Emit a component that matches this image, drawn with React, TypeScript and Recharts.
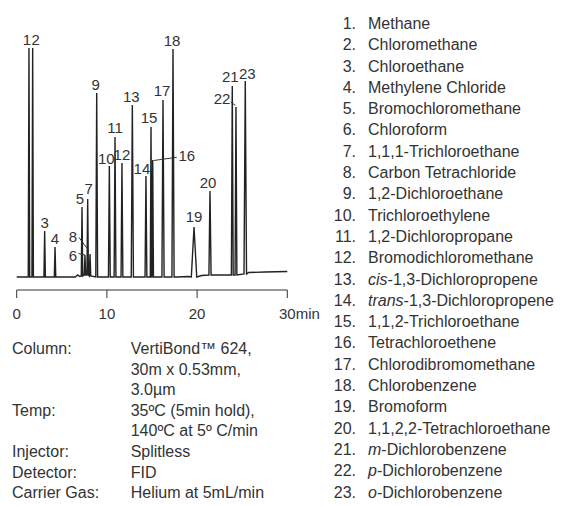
import { ComposedChart, Line, Scatter, XAxis, YAxis } from 'recharts';

// peak number, retention time (min), apex height, half width at base (min), base level
const PEAK_IDS = ['1', '2', '3', '4', '5', '6', '7', '8', '9', '10', '11', '12', '13', '14', '15', '16', '17', '18', '19', '20', '21', '22', '23'];
const PEAK_TIMES = [1.36, 1.77, 3.1, 4.25, 7.24, 7.57, 7.87, 8.13, 8.87, 10.27, 10.9, 11.67, 12.82, 14.33, 14.89, 15.08, 16.22, 17.33, 19.66, 21.43, 23.9, 24.31, 25.34];
const PEAK_HEIGHTS = [229, 229, 46, 30, 70, 22, 78, 23, 184, 111, 140, 114, 172, 101, 150, 117, 177, 228, 50, 86, 191, 170, 196];
const PEAK_HALF_WIDTHS = [0.08, 0.08, 0.08, 0.08, 0.08, 0.08, 0.08, 0.08, 0.1, 0.1, 0.1, 0.1, 0.12, 0.1, 0.08, 0.08, 0.12, 0.12, 0.3, 0.12, 0.1, 0.1, 0.14];
const PEAK_BASES = [0, 0, 0, 0, 1, 2, 2, 1, 0, 0, 0, 0, 0, 0, 0, 0, 0, 0, 0, 2, 2, 2, 3];

// baseline drift between peaks
const BASELINE_TIMES = [0, 6.5, 6.76, 7.0, 17.8, 19.0, 20.5, 23.5, 25.7, 27.5, 30];
const BASELINE_VALUES = [0, 0, 2, 0.5, 0, 0.5, 1.5, 2, 4.5, 5, 5.5];

const X_TICKS = [0, 10, 20, 30];

const COMPOUND_PREFIXES = ['', '', '', '', '', '', '', '', '', '', '', '', 'cis', 'trans', '', '', '', '', '', '', 'm', 'p', 'o'];
const COMPOUND_NAMES = [
  'Methane', 'Chloromethane', 'Chloroethane', 'Methylene Chloride', 'Bromochloromethane', 'Chloroform',
  '1,1,1-Trichloroethane', 'Carbon Tetrachloride', '1,2-Dichloroethane', 'Trichloroethylene', '1,2-Dichloropropane',
  'Bromodichloromethane', '-1,3-Dichloropropene', '-1,3-Dichloropropene', '1,1,2-Trichloroethane', 'Tetrachloroethene',
  'Chlorodibromomethane', 'Chlorobenzene', 'Bromoform', '1,1,2,2-Tetrachloroethane', '-Dichlorobenzene',
  '-Dichlorobenzene', '-Dichlorobenzene',
];

const CONDITION_LABELS = ['Column:', '', '', 'Temp:', '', 'Injector:', 'Detector:', 'Carrier Gas:'];
const CONDITION_VALUES = ['VertiBond\u2122 624,', '30m x 0.53mm,', '3.0\u00b5m', '35\u00baC (5min hold),', '140\u00baC at 5\u00ba C/min', 'Splitless', 'FID', 'Helium at 5mL/min'];

// label placement relative to the apex (px), plus optional leader line
const LABEL_LAYOUT: { dx: number; dy: number; leader?: number[] }[] = [
  { dx: -2, dy: -8 }, { dx: 3, dy: -8 }, { dx: 0, dy: -8 }, { dx: 0, dy: -8 }, { dx: -2, dy: -8 },
  { dx: -12, dy: 1, leader: [-6.5, -1.5, 0, 0] }, { dx: 1, dy: -10 },
  { dx: -17, dy: -17, leader: [-11, -16.5, -1, -3] }, { dx: -1, dy: -8 }, { dx: -3, dy: -7 },
  { dx: 0, dy: -9 }, { dx: 0, dy: -8 }, { dx: -1, dy: -8 }, { dx: -4, dy: -7 }, { dx: -2, dy: -9 },
  { dx: 34, dy: -4, leader: [1, 0.5, 24, -2.7] }, { dx: -1, dy: -9 }, { dx: -1, dy: -8 }, { dx: 0, dy: -10 },
  { dx: -2, dy: -8 }, { dx: -2, dy: -9 }, { dx: -14, dy: -8, leader: [-5.3, -5, -0.7, -1.7] }, { dx: 2, dy: -7 },
];

const FONT = '"Liberation Sans", Arial, sans-serif';
const INK = '#333';

const trace = [
  ...BASELINE_TIMES.map((t, i) => ({ t, signal: BASELINE_VALUES[i] })),
  ...PEAK_TIMES.flatMap((t, i) => [
    { t: t - PEAK_HALF_WIDTHS[i], signal: PEAK_BASES[i] },
    { t, signal: PEAK_HEIGHTS[i] },
    { t: t + PEAK_HALF_WIDTHS[i], signal: PEAK_BASES[i] },
  ]),
].sort((a, b) => a.t - b.t);

const peakPoints = PEAK_TIMES.map((t, i) => ({ t, signal: PEAK_HEIGHTS[i], id: PEAK_IDS[i], idx: i }));

function AxisTick({ x, y, payload }: any) {
  const v = payload.value;
  if (v === 30) {
    return <text x={x - 8.3} y={y} dy="0.71em" textAnchor="start" fontSize={15} fontFamily={FONT} fill={INK}>30min</text>;
  }
  return <text x={x} y={y} dy="0.71em" textAnchor="middle" fontSize={15} fontFamily={FONT} fill={INK}>{v}</text>;
}

function PeakLabel(props: any) {
  const { cx, cy, payload } = props;
  const lay = LABEL_LAYOUT[payload.idx];
  return (
    <g>
      {lay.leader && (
        <line x1={cx + lay.leader[0]} y1={cy + lay.leader[1]} x2={cx + lay.leader[2]} y2={cy + lay.leader[3]} stroke={INK} strokeWidth={1} />
      )}
      <text x={cx + lay.dx} y={cy + lay.dy} dy="0.35em" textAnchor="middle" fontSize={15} fontFamily={FONT} fill={INK}>{payload.id}</text>
    </g>
  );
}

export default function App() {
  return (
    <div style={{ position: 'absolute', left: 0, top: 0, width: 571, height: 506, background: '#fff', fontFamily: FONT, color: INK, overflow: 'hidden' }}>
      <div style={{ position: 'absolute', left: 0, top: 0 }}>
        <ComposedChart width={330} height={330} data={trace} margin={{ top: 0, right: 42.7, left: 16.7, bottom: 0 }}>
          <XAxis
            dataKey="t"
            type="number"
            domain={[0, 30]}
            ticks={X_TICKS}
            height={40}
            tickSize={8}
            tickMargin={10}
            axisLine={{ stroke: INK, strokeWidth: 1 }}
            tickLine={{ stroke: INK, strokeWidth: 1 }}
            tick={<AxisTick />}
            interval={0}
          />
          <YAxis type="number" domain={[-13, 277]} hide allowDataOverflow />
          <Line type="linear" dataKey="signal" stroke="#222" strokeWidth={1.4} dot={false} isAnimationActive={false} />
          <Scatter data={peakPoints} dataKey="signal" shape={<PeakLabel />} isAnimationActive={false} />
        </ComposedChart>
      </div>

      <div style={{ position: 'absolute', left: 12, top: 339, fontSize: 16, lineHeight: '20.6px' }}>
        {CONDITION_VALUES.map((v, i) => (
          <div key={i} style={{ display: 'flex', whiteSpace: 'nowrap' }}>
            <span style={{ width: 118.7 }}>{CONDITION_LABELS[i]}</span>
            <span>{v}</span>
          </div>
        ))}
      </div>

      <div style={{ position: 'absolute', left: 310, top: 13, fontSize: 16, lineHeight: '21.3px' }}>
        {COMPOUND_NAMES.map((n, i) => (
          <div key={i} style={{ display: 'flex', whiteSpace: 'nowrap' }}>
            <span style={{ width: 46, textAlign: 'right' }}>{i + 1}.</span>
            <span style={{ marginLeft: 12 }}>
              {COMPOUND_PREFIXES[i] && <i>{COMPOUND_PREFIXES[i]}</i>}
              {n}
            </span>
          </div>
        ))}
      </div>
    </div>
  );
}
